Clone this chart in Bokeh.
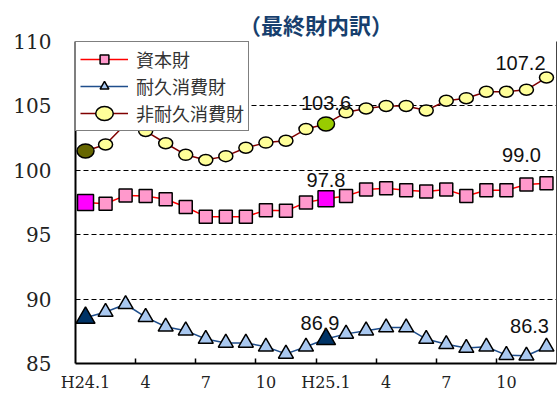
from bokeh.plotting import figure
from bokeh.models import (FixedTicker, LinearAxis, Range1d, Legend, LegendItem)
from bokeh.core.properties import value
from bokeh.embed import file_html
from bokeh.resources import INLINE

# ---------------- data ----------------
months = list(range(24))  # H24.1 .. H25.12
tick_labels = ["H24.1", "4", "7", "10", "H25.1", "4", "7", "10"]

capital = [97.5, 97.4, 98.05, 98.0, 97.75, 97.15, 96.4, 96.4, 96.4, 96.9, 96.85, 97.5,
           97.8, 98.0, 98.5, 98.6, 98.45, 98.35, 98.5, 98.0, 98.45, 98.45, 98.9, 99.0]
durable = [88.55, 89.0, 89.6, 88.6, 87.85, 87.55, 86.9, 86.6, 86.6, 86.3, 85.75, 86.3,
           86.9, 87.3, 87.55, 87.8, 87.8, 86.9, 86.5, 86.2, 86.3, 85.65, 85.6, 86.3]
nondurable = [101.5, 102.0, 103.6, 103.05, 102.1, 101.2, 100.8, 101.1, 101.75, 102.15, 102.3, 103.2,
              103.6, 104.5, 104.8, 105.0, 105.0, 104.65, 105.4, 105.6, 106.1, 106.1, 106.25, 107.2]
highlight = [0, 12]
labelled = [12, 23]

series_names = ["資本財", "耐久消費財", "非耐久消費財"]

x = [m + 0.5 for m in months]

# ---------------- figure ----------------
p = figure(width=558, height=394, output_backend="svg", toolbar_location=None,
           x_range=Range1d(0, 24), y_range=Range1d(85, 110),
           min_border_left=75, min_border_right=2, min_border_top=41, min_border_bottom=31)
p.background_fill_color = "white"
p.border_fill_color = "white"
p.outline_line_color = None

p.title.text = "（最終財内訳）"
p.title.align = "center"
p.title.text_font = "Noto Sans CJK JP"
p.title.text_font_size = "22px"
p.title.text_font_style = "bold"
p.title.text_color = "#173f6e"
p.title.offset = 0
p.title.standoff = 4

# axes
sans = "Liberation Sans"
serif = "DejaVu Serif"
p.yaxis.ticker = FixedTicker(ticks=[85, 90, 95, 100, 105, 110])
p.yaxis.major_tick_line_color = None
p.yaxis.minor_tick_line_color = None
p.yaxis.axis_line_width = 2
p.yaxis.axis_line_color = "black"
p.yaxis.major_label_text_font = serif
p.yaxis.major_label_text_font_size = "20px"
p.yaxis.major_label_text_color = "#222222"
p.yaxis.major_label_standoff = 18

tick_pos = [m + 0.5 for m in months[::3]]
p.xaxis.ticker = FixedTicker(ticks=tick_pos, minor_ticks=[m for m in months[3::3]])
p.xaxis.major_label_overrides = {t: lab for t, lab in zip(tick_pos, tick_labels)}
p.xaxis.major_tick_in = 0
p.xaxis.major_tick_out = 0
p.xaxis.minor_tick_in = 5
p.xaxis.minor_tick_out = 0
p.xaxis.minor_tick_line_color = "black"
p.xaxis.minor_tick_line_width = 1.5
p.xaxis.axis_line_width = 2
p.xaxis.axis_line_color = "black"
p.xaxis.major_label_text_font = serif
p.xaxis.major_label_text_font_size = "16px"
p.xaxis.major_label_text_color = "#222222"
p.xaxis.major_label_standoff = 9

right = LinearAxis(ticker=FixedTicker(ticks=[]), axis_line_color="#444444", axis_line_width=1,
                   major_tick_line_color=None, minor_tick_line_color=None,
                   major_label_text_font_size="0px")
p.add_layout(right, "right")

p.xgrid.grid_line_color = None
p.ygrid.ticker = FixedTicker(ticks=[90, 95, 100, 105, 110])
p.ygrid.grid_line_color = "black"
p.ygrid.grid_line_dash = "5 3"
p.ygrid.grid_line_width = 1

# ---------------- series ----------------
items = []

# capital goods
l1 = p.line(x, capital, line_color="#ff0000", line_width=1.5)
m1 = p.scatter(x, capital, marker="square", size=13, fill_color="#ff99cc",
               line_color="black", line_width=1.5)
p.scatter([x[i] for i in highlight], [capital[i] for i in highlight], marker="square", size=16,
          fill_color="#ff00ff", line_color="black", line_width=1.5)
items.append(LegendItem(label=series_names[0], renderers=[l1, m1]))

# durable
l2 = p.line(x, durable, line_color="#1f4e8c", line_width=1.5)
m2 = p.scatter(x, durable, marker="triangle", size=15, fill_color="#a9c8f0",
               line_color="black", line_width=1.5)
p.scatter([x[i] for i in highlight], [durable[i] for i in highlight], marker="triangle", size=19,
          fill_color="#003366", line_color="black", line_width=1.5)
items.append(LegendItem(label=series_names[1], renderers=[l2, m2]))

# non-durable
l3 = p.line(x, nondurable, line_color="#800000", line_width=1.5)
m3 = p.ellipse(x, nondurable, width=14, height=11, width_units="screen", height_units="screen",
               fill_color="#ffff99", line_color="black", line_width=1.5)
hl_col = ["#666600", "#99cc00"]
p.ellipse([x[i] for i in highlight], [nondurable[i] for i in highlight], width=17, height=14,
          width_units="screen", height_units="screen",
          fill_color=hl_col, line_color="black", line_width=1.5)
items.append(LegendItem(label=series_names[2], renderers=[l3, m3]))

# ---------------- data labels ----------------
def lab(series, i, dx, dy):
    p.text([x[i]], [series[i]], text=[f"{series[i]:.1f}"], x_offset=dx, y_offset=dy,
           text_align="center", text_baseline="bottom", text_font=value(sans),
           text_font_size="20px", text_color="#111111")

lab(nondurable, labelled[0], 0, -14)
lab(nondurable, labelled[1], -26, -8)
lab(capital, labelled[0], 0, -12)
lab(capital, labelled[1], -25, -21)
lab(durable, labelled[0], -6, -9)
lab(durable, labelled[1], -17, -14)

# ---------------- legend ----------------
legend = Legend(items=items, location="top_left", margin=0, padding=4, spacing=1,
                glyph_width=48, glyph_height=22, label_standoff=8,
                label_text_font="Noto Sans CJK JP", label_text_font_size="18px",
                label_text_color="#333333", border_line_color="black", border_line_width=1.5,
                background_fill_color="white", background_fill_alpha=1)
p.add_layout(legend)

open("out.html", "w").write(file_html(p, INLINE))
